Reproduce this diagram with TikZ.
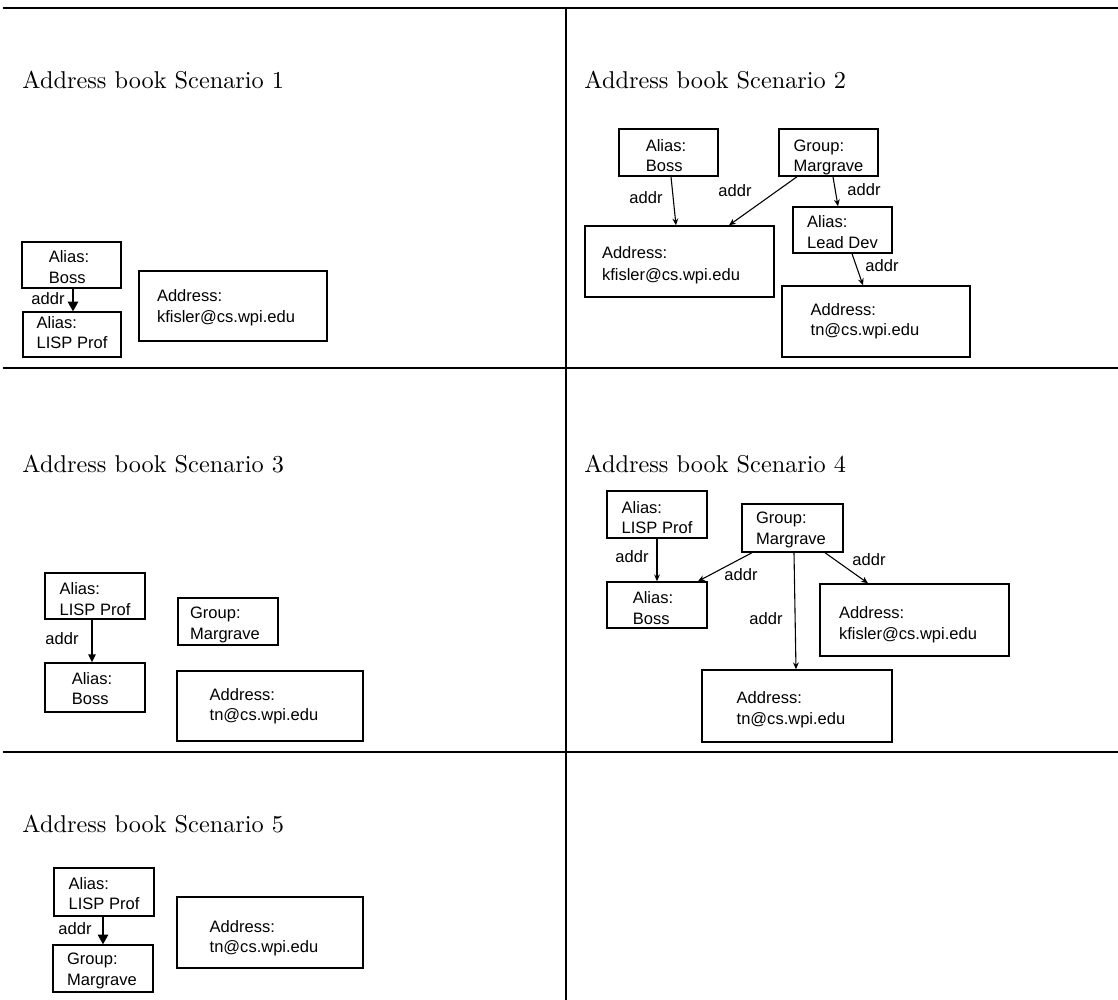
\documentclass[tikz,border=0pt]{standalone}
\usepackage{fontspec}
\newfontfamily\arialf{Liberation Sans}
\usetikzlibrary{calc,arrows.meta}
\newlength\upx \setlength\upx{0.4115pt}
\newcommand\twoline[3][0pt]{\begin{tabular}{@{}l@{}}#2\\[#1]#3\end{tabular}}
\tikzset{
 box/.style={draw, line width=0.6pt, inner sep=0pt, font=\arialf\fontsize{6.8}{8.5}\selectfont},
 lbl/.style={font=\arialf\fontsize{6.8}{8.5}\selectfont, inner sep=0pt},
 ttl/.style={font=\fontsize{10}{12}\selectfont, anchor=base west, inner sep=0pt},
 rulel/.style={line width=0.75pt},
 conn/.style={line width=0.45pt},
 bigtip/.style={-{Triangle[length=4pt,width=4.4pt]}},
 midtip/.style={-{Triangle[length=3.2pt,width=3pt]}},
 smalltip/.style={-{Stealth[length=2.8pt,width=2.4pt]}},
}
% name, x1, y1, x2, y2, text dx (px), text dy (px, down), content
\newcommand\abox[8]{%
 \node[box, minimum width={(#4-#2)*0.4115pt}, minimum height={(#5-#3)*0.4115pt}] (#1) at ({(#2+#4)/2},{(#3+#5)/2}) {\hspace*{#6\upx}\raisebox{\dimexpr-#7\upx-1.7pt\relax}[0pt][0pt]{#8}};}
\begin{document}
\begin{tikzpicture}[x=0.4115pt, y=-0.4115pt]
\useasboundingbox (0,0) rectangle (1118,1000);
% table rules
\draw[rulel] (3,8) -- (1118,8);
\draw[rulel] (3,368) -- (1118,368);
\draw[rulel] (3,752) -- (1118,752);
\draw[rulel] (566,8) -- (566,1000);
% titles
\node[ttl] (t1) at (22,89) {Address book Scenario 1};
\node[ttl] (t2) at (584,89) {Address book Scenario 2};
\node[ttl] (t3) at (22,473) {Address book Scenario 3};
\node[ttl] (t4) at (584,473) {Address book Scenario 4};
\node[ttl] (t5) at (22,833) {Address book Scenario 5};
% Scenario 1
\abox{s1boss}{22}{242}{121}{288}{-5}{4}{\twoline{Alias:}{Boss}}
\abox{s1lisp}{23}{312}{121}{357}{0}{0}{\twoline{Alias:}{LISP Prof}}
\abox{s1addr}{139}{271}{327}{341}{-14}{2}{\twoline{Address:}{kfisler@cs.wpi.edu}}
\draw[conn,bigtip] ($(s1boss.south)+(1.5,0)$) -- ($(s1lisp.north)+(1,0)$);
\node[lbl] (s1l1) at (48,299) {addr};
% Scenario 2
\abox{s2boss}{619}{129}{718}{176}{-5}{5}{\twoline{Alias:}{Boss}}
\abox{s2marg}{779}{129}{878}{176}{0}{5}{\twoline{Group:}{Margrave}}
\abox{s2kf}{585}{226}{774}{297}{-17}{4}{\twoline[0.5pt]{Address:}{kfisler@cs.wpi.edu}}
\abox{s2lead}{793}{207}{892}{253}{0}{4}{\twoline{Alias:}{Lead Dev}}
\abox{s2tn}{782}{286}{970}{357}{-22}{0}{\twoline{Address:}{tn@cs.wpi.edu}}
\draw[conn,smalltip] ($(s2boss.south)+(2.5,0)$) -- ($(s2kf.north)+(-3.5,0)$);
\draw[conn,smalltip] ($(s2marg.south)+(-31.5,0)$) -- ($(s2kf.north)+(49.5,0)$);
\draw[conn,smalltip] ($(s2marg.south)+(4.5,0)$) -- ($(s2lead.north)+(-4.5,0)$);
\draw[conn,smalltip] ($(s2lead.south)+(9.5,0)$) -- ($(s2tn.north)+(-13,0)$);
\node[lbl] (s2l1) at (646,198) {addr};
\node[lbl] (s2l2) at (735,191) {addr};
\node[lbl] (s2l3) at (864,190) {addr};
\node[lbl] (s2l4) at (882,266) {addr};
% Scenario 3
\abox{s3lisp}{45}{573}{145}{619}{0}{5}{\twoline{Alias:}{LISP Prof}}
\abox{s3boss}{45}{663}{145}{712}{-6}{3}{\twoline{Alias:}{Boss}}
\abox{s3marg}{178}{598}{278}{645}{-6}{3.5}{\twoline{Group:}{Margrave}}
\abox{s3tn}{177}{671}{363}{741}{-12}{0.5}{\twoline{Address:}{tn@cs.wpi.edu}}
\draw[conn,midtip] ($(s3lisp.south)+(-3,0)$) -- ($(s3boss.north)+(-3,0)$);
\node[lbl] (s3l1) at (62,639) {addr};
% Scenario 4
\abox{s4lisp}{607}{491}{707}{538}{0}{5}{\twoline{Alias:}{LISP Prof}}
\abox{s4marg}{742}{504}{843}{552}{-3}{2}{\twoline{Group:}{Margrave}}
\abox{s4boss}{607}{582}{707}{628}{-8}{5}{\twoline{Alias:}{Boss}}
\abox{s4kf}{820}{584}{1009}{656}{-13}{5}{\twoline{Address:}{kfisler@cs.wpi.edu}}
\abox{s4tn}{702}{670}{892}{742}{-12}{4}{\twoline{Address:}{tn@cs.wpi.edu}}
\draw[conn,smalltip] (s4lisp.south) -- (s4boss.north);
\draw[conn,smalltip] ($(s4marg.south)+(-40.5,0)$) -- ($(s4boss.north)+(41,0)$);
\draw[conn,smalltip] ($(s4marg.south)+(1.5,0)$) -- ($(s4tn.north)+(-1,0)$);
\draw[conn,smalltip] ($(s4marg.south)+(32.5,0)$) -- ($(s4kf.north)+(-46.5,0)$);
\node[lbl] (s4l1) at (632,557) {addr};
\node[lbl] (s4l2) at (741,575) {addr};
\node[lbl] (s4l3) at (766,619) {addr};
\node[lbl] (s4l4) at (869,560) {addr};
% Scenario 5
\abox{s5lisp}{54}{868}{154}{916}{0}{3.5}{\twoline{Alias:}{LISP Prof}}
\abox{s5marg}{53}{945}{153}{992}{-2}{2.5}{\twoline{Group:}{Margrave}}
\abox{s5tn}{177}{897}{363}{968}{-12}{6}{\twoline{Address:}{tn@cs.wpi.edu}}
\draw[conn,bigtip] ($(s5lisp.south)+(-1,0)$) -- (s5marg.north);
\node[lbl] (s5l1) at (75,929) {addr};
\end{tikzpicture}
\end{document}
